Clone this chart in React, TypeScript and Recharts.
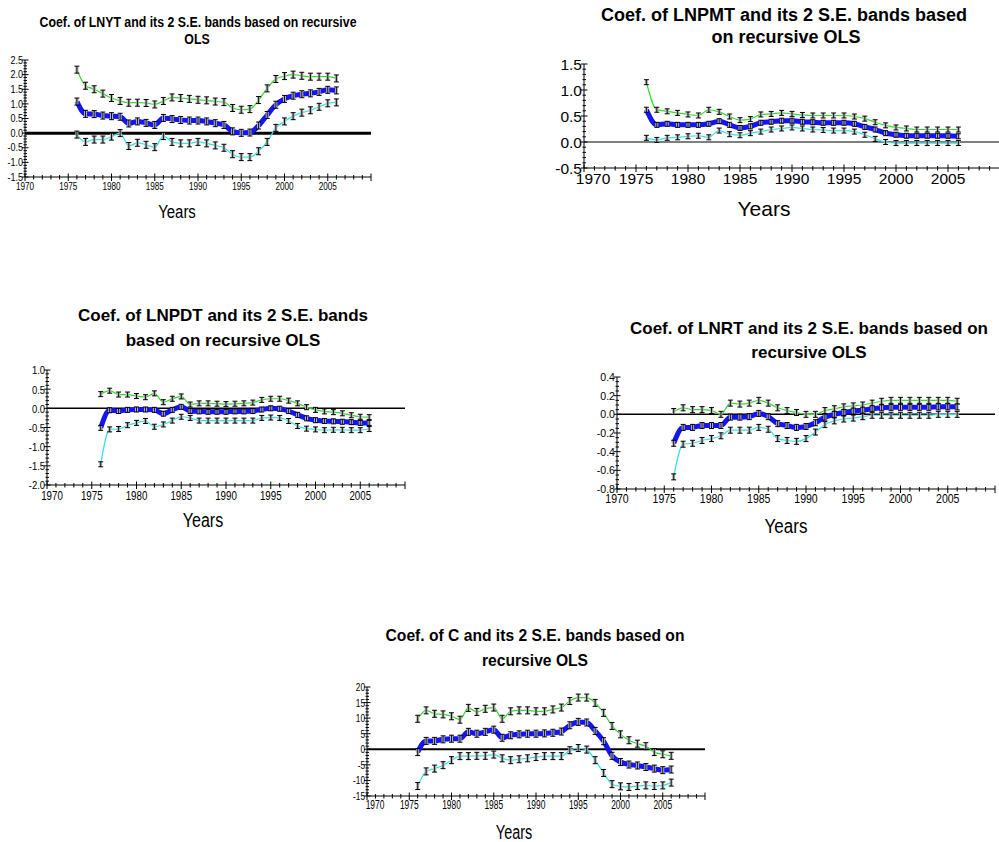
import React from 'react';
import { LineChart, Line, XAxis, YAxis, ReferenceLine } from 'recharts';

const FONT = '"Liberation Sans", Arial, Helvetica, sans-serif';

// recursive OLS estimates, 1976-2006
const years = [
  1976, 1977, 1978, 1979, 1980, 1981, 1982, 1983, 1984, 1985, 1986, 1987, 1988, 1989, 1990, 1991,
  1992, 1993, 1994, 1995, 1996, 1997, 1998, 1999, 2000, 2001, 2002, 2003, 2004, 2005, 2006,
];
const xLabels = [1970, 1975, 1980, 1985, 1990, 1995, 2000, 2005];

const lnytUpper = [2.17, 1.62, 1.5, 1.35, 1.2, 1.1, 1.04, 1.04, 1.03, 0.98, 1.1, 1.22, 1.2, 1.17, 1.14, 1.12, 1.08, 1.06, 0.86, 0.8, 0.82, 1.13, 1.53, 1.85, 1.95, 2.0, 1.96, 1.93, 1.93, 1.93, 1.87];
const lnytCoef = [1.08, 0.66, 0.65, 0.6, 0.58, 0.56, 0.33, 0.4, 0.35, 0.28, 0.52, 0.48, 0.45, 0.43, 0.43, 0.4, 0.34, 0.28, 0.06, 0.01, 0.02, 0.26, 0.62, 0.97, 1.17, 1.28, 1.33, 1.36, 1.41, 1.48, 1.46];
const lnytLower = [-0.05, -0.3, -0.22, -0.22, -0.12, 0.0, -0.44, -0.33, -0.4, -0.48, -0.1, -0.3, -0.35, -0.35, -0.3, -0.35, -0.42, -0.5, -0.72, -0.82, -0.82, -0.62, -0.3, 0.18, 0.4, 0.58, 0.7, 0.78, 0.9, 1.02, 1.05];

const lnpmtUpper = [1.15, 0.62, 0.59, 0.56, 0.53, 0.51, 0.62, 0.58, 0.49, 0.42, 0.44, 0.53, 0.54, 0.56, 0.54, 0.52, 0.51, 0.51, 0.51, 0.51, 0.49, 0.45, 0.38, 0.32, 0.28, 0.26, 0.24, 0.24, 0.24, 0.24, 0.24];
const lnpmtCoef = [0.62, 0.33, 0.35, 0.33, 0.33, 0.33, 0.35, 0.4, 0.33, 0.27, 0.3, 0.37, 0.39, 0.41, 0.41, 0.39, 0.38, 0.37, 0.37, 0.37, 0.35, 0.29, 0.24, 0.17, 0.14, 0.12, 0.12, 0.12, 0.12, 0.12, 0.11];
const lnpmtLower = [0.08, 0.04, 0.08, 0.09, 0.11, 0.12, 0.09, 0.22, 0.15, 0.13, 0.17, 0.2, 0.24, 0.26, 0.28, 0.26, 0.24, 0.23, 0.22, 0.22, 0.2, 0.14, 0.06, 0.0, -0.02, -0.02, -0.02, -0.02, -0.02, -0.02, -0.02];

const lnpdtUpper = [0.37, 0.46, 0.36, 0.36, 0.32, 0.29, 0.39, 0.16, 0.25, 0.31, 0.1, 0.13, 0.13, 0.12, 0.11, 0.12, 0.13, 0.15, 0.22, 0.25, 0.25, 0.2, 0.13, 0.03, -0.04, -0.08, -0.1, -0.13, -0.18, -0.22, -0.23];
const lnpdtCoef = [-0.51, -0.05, -0.07, -0.04, -0.03, -0.03, -0.04, -0.14, -0.04, 0.04, -0.07, -0.08, -0.09, -0.09, -0.09, -0.08, -0.08, -0.07, -0.03, 0.0, -0.01, -0.07, -0.17, -0.26, -0.31, -0.33, -0.34, -0.35, -0.36, -0.38, -0.38];
const lnpdtLower = [-1.46, -0.55, -0.54, -0.44, -0.38, -0.33, -0.48, -0.42, -0.32, -0.22, -0.25, -0.32, -0.32, -0.32, -0.32, -0.32, -0.32, -0.32, -0.25, -0.24, -0.25, -0.33, -0.46, -0.53, -0.55, -0.57, -0.56, -0.56, -0.57, -0.57, -0.54];

const lnrtUpper = [0.03, 0.07, 0.05, 0.05, 0.04, 0.0, 0.12, 0.11, 0.12, 0.15, 0.12, 0.07, 0.04, 0.02, 0.0, 0.0, 0.04, 0.06, 0.08, 0.09, 0.1, 0.12, 0.14, 0.15, 0.15, 0.15, 0.15, 0.15, 0.15, 0.15, 0.14];
const lnrtCoef = [-0.31, -0.14, -0.14, -0.12, -0.12, -0.12, -0.03, -0.03, -0.025, 0.01, -0.025, -0.1, -0.12, -0.14, -0.13, -0.09, -0.03, 0.0, 0.02, 0.035, 0.045, 0.06, 0.07, 0.075, 0.075, 0.075, 0.075, 0.075, 0.08, 0.08, 0.08];
const lnrtLower = [-0.67, -0.32, -0.31, -0.28, -0.26, -0.23, -0.17, -0.17, -0.17, -0.14, -0.16, -0.26, -0.28, -0.29, -0.26, -0.19, -0.11, -0.07, -0.05, -0.04, -0.025, -0.01, -0.01, -0.01, -0.01, -0.01, -0.01, -0.01, 0.0, 0.0, 0.0];

const cUpper = [9.8, 12.5, 11.4, 11.2, 10.6, 9.5, 13.3, 12.0, 13.0, 13.4, 9.8, 12.2, 12.5, 12.5, 12.2, 12.2, 12.8, 13.4, 15.5, 16.6, 16.6, 14.9, 11.7, 7.5, 4.8, 2.9, 1.8, 1.0, -0.9, -1.6, -2.1];
const cCoef = [-0.9, 2.7, 2.7, 3.2, 3.4, 3.4, 5.6, 5.0, 5.6, 6.3, 3.7, 4.5, 4.8, 5.0, 5.0, 5.1, 5.3, 5.7, 7.7, 8.8, 8.6, 5.9, 2.6, -2.1, -4.1, -4.9, -5.2, -5.7, -6.2, -6.7, -6.5];
const cLower = [-11.8, -7.1, -6.2, -5.1, -3.5, -2.2, -2.2, -2.1, -2.1, -1.7, -2.9, -3.5, -3.2, -2.9, -2.5, -2.2, -2.2, -2.2, -0.3, 0.4, -0.1, -3.5, -7.6, -11.2, -11.9, -12.1, -11.8, -11.6, -11.8, -11.6, -10.7];

const lnytTicks = [2.5, 2.0, 1.5, 1.0, 0.5, 0.0, -0.5, -1.0, -1.5];
const lnpmtTicks = [1.5, 1.0, 0.5, 0.0, -0.5];
const lnpdtTicks = [1.0, 0.5, 0.0, -0.5, -1.0, -1.5, -2.0];
const lnrtTicks = [0.4, 0.2, 0.0, -0.2, -0.4, -0.6, -0.8];
const cTicks = [20, 15, 10, 5, 0, -5, -10, -15];

const GREEN = '#2ddc2d';
const BLUE = '#1414f5';
const CYAN = '#2ee4e8';

type Panel = {
  upper: number[];
  coef: number[];
  lower: number[];
  majors: number[];
  minor: number;
  digits: number;
  left: number;
  right: number;
  top: number;
  bottom: number;
  zeroW: number;
  yFont: number;
  ySx: number;
  xFont: number;
  xSx: number;
  xGap: number;
  firstShift: number;
  beam: number;
};

const panels: Record<string, Panel> = {
  lnyt: {
    upper: lnytUpper, coef: lnytCoef, lower: lnytLower, majors: lnytTicks, minor: 0.1, digits: 1,
    left: 25, right: 371, top: 60, bottom: 177, zeroW: 3,
    yFont: 10, ySx: 0.9, xFont: 10, xSx: 0.82, xGap: 6, firstShift: 0, beam: 3.5,
  },
  lnpmt: {
    upper: lnpmtUpper, coef: lnpmtCoef, lower: lnpmtLower, majors: lnpmtTicks, minor: 0.1, digits: 1,
    left: 584, right: 1000, top: 64, bottom: 168, zeroW: 1.2,
    yFont: 15.5, ySx: 1, xFont: 15.5, xSx: 1, xGap: 5, firstShift: 9, beam: 2.5,
  },
  lnpdt: {
    upper: lnpdtUpper, coef: lnpdtCoef, lower: lnpdtLower, majors: lnpdtTicks, minor: 0.1, digits: 1,
    left: 47, right: 405, top: 370, bottom: 485, zeroW: 1.5,
    yFont: 11.5, ySx: 0.82, xFont: 12.5, xSx: 0.78, xGap: 6, firstShift: 5, beam: 2.5,
  },
  lnrt: {
    upper: lnrtUpper, coef: lnrtCoef, lower: lnrtLower, majors: lnrtTicks, minor: 0.05, digits: 1,
    left: 617, right: 995, top: 377, bottom: 489, zeroW: 1.5,
    yFont: 11.5, ySx: 0.92, xFont: 12, xSx: 0.88, xGap: 6, firstShift: 0, beam: 3,
  },
  c: {
    upper: cUpper, coef: cCoef, lower: cLower, majors: cTicks, minor: 1, digits: 0,
    left: 367, right: 705, top: 687, bottom: 796, zeroW: 2,
    yFont: 11, ySx: 0.75, xFont: 12, xSx: 0.7, xGap: 5, firstShift: 8, beam: 3.5,
  },
};

function Txt({ x, y, size, sx = 1, bold = false, children }: any) {
  return (
    <div
      style={{
        position: 'absolute',
        left: x,
        top: y,
        transform: `translate(-50%, -50%) scaleX(${sx})`,
        fontFamily: FONT,
        fontSize: size,
        fontWeight: bold ? 700 : 400,
        lineHeight: 1,
        whiteSpace: 'nowrap',
        color: '#000',
      }}
    >
      {children}
    </div>
  );
}

// error-bar style marker drawn at every estimate
function beamDot(h: number) {
  return (props: any) => {
    const { cx, cy, index } = props;
    if (cx == null || cy == null) return <g key={`n${index}`} />;
    return (
      <g key={`b${index}`}>
        <rect x={cx - 1.5} y={cy - h} width={3} height={h * 2} fill="#b4b4b4" />
        <line x1={cx} x2={cx} y1={cy - h} y2={cy + h} stroke="#000" strokeWidth={0.9} />
        <line x1={cx - 2.5} x2={cx + 2.5} y1={cy - h} y2={cy - h} stroke="#000" strokeWidth={1} />
        <line x1={cx - 2.5} x2={cx + 2.5} y1={cy + h} y2={cy + h} stroke="#000" strokeWidth={1} />
      </g>
    );
  };
}

function CoefChart({ p }: { p: Panel }) {
  const data = years.map((yr, i) => ({ year: yr, upper: p.upper[i], coef: p.coef[i], lower: p.lower[i] }));
  const padL = 50;
  const padR = 12;
  const padT = 12;
  const padB = 30;
  const w = p.right - p.left + padL + padR;
  const h = p.bottom - p.top + padT + padB;
  const yMax = p.majors[0];
  const yMin = p.majors[p.majors.length - 1];
  const yTicks: number[] = [];
  const n = Math.round((yMax - yMin) / p.minor);
  for (let i = 0; i <= n; i++) yTicks.push(Math.round((yMin + i * p.minor) * 1000) / 1000);
  const xTicks: number[] = [];
  for (let v = 1970; v <= 2010; v++) xTicks.push(v);

  const isMajor = (v: number) => p.majors.some((m) => Math.abs(m - v) < 1e-6);

  const XTick = (props: any) => {
    const { x, y, payload } = props;
    const v = payload.value;
    const major = v % 5 === 0;
    const labelled = xLabels.includes(v);
    const shift = v === 1970 ? p.firstShift : 0;
    return (
      <g>
        <line x1={x} x2={x} y1={y - (major ? 3.5 : 2)} y2={y + (major ? 4 : 2.5)} stroke="#000" strokeWidth={1} />
        {labelled && (
          <text
            x={0}
            y={0}
            transform={`translate(${x + shift},${y + p.xGap}) scale(${p.xSx},1)`}
            textAnchor="middle"
            dominantBaseline="hanging"
            fontFamily={FONT}
            fontSize={p.xFont}
            fill="#000"
          >
            {v}
          </text>
        )}
      </g>
    );
  };

  const YTick = (props: any) => {
    const { x, y, payload } = props;
    const v = payload.value;
    const major = isMajor(v);
    return (
      <g>
        <line x1={x - (major ? 3 : 1.5)} x2={x + (major ? 3.5 : 2)} y1={y} y2={y} stroke="#000" strokeWidth={1} />
        {major && (
          <text
            x={0}
            y={0}
            transform={`translate(${x - 2},${y}) scale(${p.ySx},1)`}
            textAnchor="end"
            dominantBaseline="central"
            fontFamily={FONT}
            fontSize={p.yFont}
            fill="#000"
          >
            {v.toFixed(p.digits)}
          </text>
        )}
      </g>
    );
  };

  return (
    <div style={{ position: 'absolute', left: p.left - padL, top: p.top - padT }}>
      <LineChart width={w} height={h} data={data} margin={{ top: padT, right: padR, bottom: 0, left: 0 }}>
        <XAxis
          dataKey="year"
          type="number"
          domain={[1970, 2010]}
          ticks={xTicks}
          interval={0}
          tickSize={0}
          tickMargin={0}
          tickLine={false}
          tick={XTick}
          axisLine={{ stroke: '#000' }}
          height={padB}
          allowDataOverflow
        />
        <YAxis
          type="number"
          domain={[yMin, yMax]}
          ticks={yTicks}
          interval={0}
          tickSize={0}
          tickMargin={0}
          tickLine={false}
          tick={YTick}
          axisLine={{ stroke: '#000' }}
          width={padL}
          allowDataOverflow
        />
        <ReferenceLine y={0} stroke="#000" strokeWidth={p.zeroW} />
        <Line type="monotone" dataKey="upper" stroke={GREEN} strokeWidth={1.2} dot={beamDot(p.beam)} activeDot={false} isAnimationActive={false} />
        <Line type="monotone" dataKey="coef" stroke={BLUE} strokeWidth={5} dot={beamDot(p.beam)} activeDot={false} isAnimationActive={false} />
        <Line type="monotone" dataKey="lower" stroke={CYAN} strokeWidth={1.2} dot={beamDot(p.beam)} activeDot={false} isAnimationActive={false} />
      </LineChart>
    </div>
  );
}

export default function App() {
  return (
    <div style={{ position: 'absolute', left: 0, top: 0, width: 999, height: 842, overflow: 'hidden', background: '#fff' }}>
      <CoefChart p={panels.lnyt} />
      <Txt x={198} y={22} size={14} sx={0.88} bold>Coef. of LNYT and its 2 S.E. bands based on recursive</Txt>
      <Txt x={197} y={39} size={14} sx={0.88} bold>OLS</Txt>
      <Txt x={177} y={212} size={18} sx={0.83}>Years</Txt>

      <CoefChart p={panels.lnpmt} />
      <Txt x={784} y={15} size={18} bold>Coef. of LNPMT and its 2 S.E. bands based</Txt>
      <Txt x={786} y={37} size={18} bold>on recursive OLS</Txt>
      <Txt x={764} y={208} size={21}>Years</Txt>

      <CoefChart p={panels.lnpdt} />
      <Txt x={223} y={315} size={17} bold>Coef. of LNPDT and its 2 S.E. bands</Txt>
      <Txt x={223} y={340} size={17} bold>based on recursive OLS</Txt>
      <Txt x={203} y={520} size={20} sx={0.8}>Years</Txt>

      <CoefChart p={panels.lnrt} />
      <Txt x={809} y={328} size={17} bold>Coef. of LNRT and its 2 S.E. bands based on</Txt>
      <Txt x={809} y={352} size={17} bold>recursive OLS</Txt>
      <Txt x={786} y={526} size={20} sx={0.85}>Years</Txt>

      <CoefChart p={panels.c} />
      <Txt x={535} y={635} size={17} sx={0.92} bold>Coef. of C and its 2 S.E. bands based on</Txt>
      <Txt x={535} y={660} size={17} sx={0.92} bold>recursive OLS</Txt>
      <Txt x={514} y={832} size={20} sx={0.72}>Years</Txt>
    </div>
  );
}
